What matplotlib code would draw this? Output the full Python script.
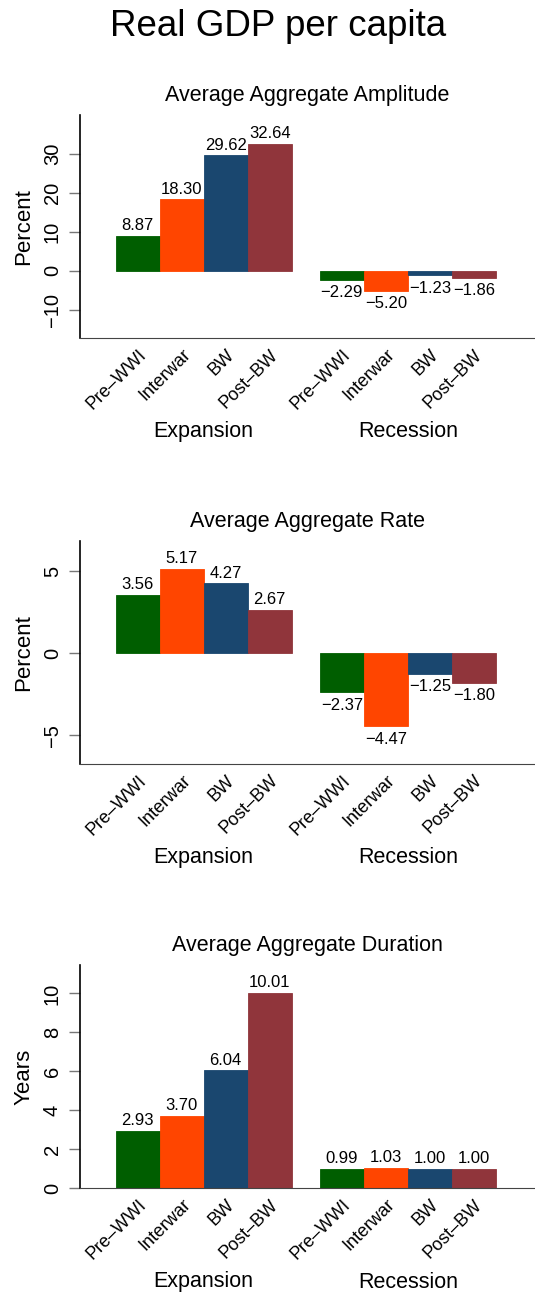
import matplotlib
matplotlib.use("Agg")
import matplotlib.pyplot as plt
import matplotlib.transforms as mtransforms
import numpy as np

plt.rcParams['font.family'] = ['Liberation Sans', 'DejaVu Sans']

periods = ['Pre–WWI', 'Interwar', 'BW', 'Post–BW']
phases = ['Expansion', 'Recession']
colors = ['#005E00', '#FF4500', '#1A476F', '#90353B']

amp_exp = [8.87, 18.30, 29.62, 32.64]
amp_rec = [-2.29, -5.20, -1.23, -1.86]
rate_exp = [3.56, 5.17, 4.27, 2.67]
rate_rec = [-2.37, -4.47, -1.25, -1.80]
dur_exp = [2.93, 3.70, 6.04, 10.01]
dur_rec = [0.99, 1.03, 1.00, 1.00]

W, H = 535, 1296
fig = plt.figure(figsize=(W / 100, H / 100), dpi=100)
fig.text(0.52, 1 - 27 / H, 'Real GDP per capita', ha='center', va='center', fontsize=26.5)

gap = 0.64
x_exp = np.arange(4) + 0.5
x_rec = np.arange(4) + 4 + gap + 0.5

# title, y label, expansion, recession, y limits, y ticks, top edge (px)
panels = [
    ('Average Aggregate Amplitude', 'Percent', amp_exp, amp_rec, (-17.3, 40), [-10, 0, 10, 20, 30], 115),
    ('Average Aggregate Rate', 'Percent', rate_exp, rate_rec, (-6.75, 6.88), [-5, 0, 5], 540.7),
    ('Average Aggregate Duration', 'Years', dur_exp, dur_rec, (0, 11.46), [0, 2, 4, 6, 8, 10], 965),
]

def fmt(v):
    return f'{v:.2f}'.replace('-', '−')

for title, ylab, ve, vr, ylim, yt, top in panels:
    ax = fig.add_axes([80 / W, 1 - (top + 223) / H, 455 / W, 223 / H])
    for xs, vals in ((x_exp, ve), (x_rec, vr)):
        ax.bar(xs, vals, width=1.0, color=colors, edgecolor=colors, linewidth=0.6)
        for x, v in zip(xs, vals):
            if v >= 0:
                ax.annotate(fmt(v), (x, v), xytext=(0, 2), textcoords='offset points',
                            ha='center', va='bottom', fontsize=12)
            else:
                ax.annotate(fmt(v), (x, v), xytext=(0, -4), textcoords='offset points',
                            ha='center', va='top', fontsize=12)
    ax.set_xlim(-0.81, 4 + gap + 4 + 0.89)
    ax.set_ylim(*ylim)
    ax.set_yticks(yt)
    ax.set_yticklabels([str(t).replace('-', '−') for t in yt], rotation=90, va='center', fontsize=14.5)
    ax.tick_params(axis='y', length=8, width=1, color='#777777', pad=5)
    ax.set_xticks(np.concatenate([x_exp, x_rec]))
    ax.set_xticklabels(periods * 2, rotation=45, ha='right', rotation_mode='anchor', fontsize=13)
    ax.tick_params(axis='x', length=0, pad=6)
    ax.spines['top'].set_visible(False)
    ax.spines['right'].set_visible(False)
    ax.spines['left'].set_linewidth(1.2)
    ax.spines['bottom'].set_color('#444444')
    ax.set_ylabel(ylab, fontsize=16, labelpad=6)
    ax.set_title(title, fontsize=15.5, pad=10)

    # group names under the rotated period labels
    trans = mtransforms.blended_transform_factory(ax.transData, ax.transAxes)
    for xs, name in ((x_exp, phases[0]), (x_rec, phases[1])):
        ax.text(xs.mean(), -(432 - 338) / 223, name, transform=trans,
                ha='center', va='center', fontsize=15.5)

fig.savefig('out.png', dpi=100)
